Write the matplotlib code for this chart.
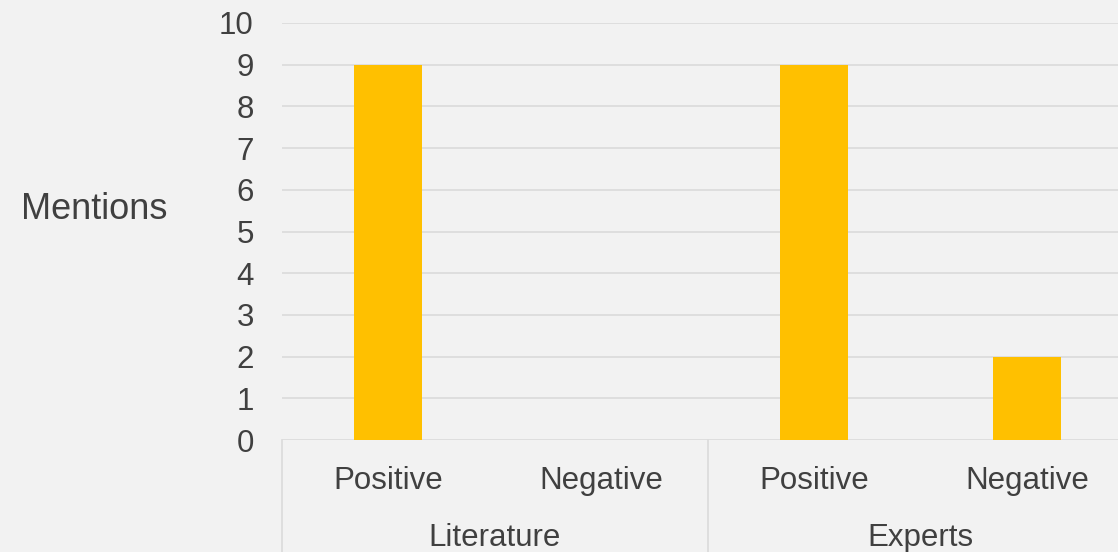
"""Bar chart of positive and negative mentions by source."""

import matplotlib

matplotlib.use("Agg")

import matplotlib.pyplot as plt
from matplotlib.lines import Line2D

groups = ["Literature", "Experts"]
sentiments = ["Positive", "Negative"]
mentions = [9, 0, 9, 2]
y_ticks = list(range(0, 11))

BAR_COLOR = "#FFC000"
GRID_COLOR = "#DCDCDC"
TEXT_COLOR = "#404040"
BACKGROUND = "#F2F2F2"

plt.rcParams["font.family"] = ["Liberation Sans", "DejaVu Sans"]

W, H = 1118, 552
fig = plt.figure(figsize=(W / 100, H / 100), dpi=100, facecolor=BACKGROUND)

# plot area in pixels: left 281.5, right 1133.5 (runs past the edge), y from 23 to 440
left, right, top, bottom = 281.5, 1133.5, 23, 440
ax = fig.add_axes(
    [left / W, (H - bottom) / H, (right - left) / W, (bottom - top) / H]
)
ax.set_facecolor(BACKGROUND)

positions = list(range(len(mentions)))
ax.bar(positions, mentions, width=0.315, color=BAR_COLOR, zorder=3)

ax.set_xlim(-0.5, len(mentions) - 0.5)
ax.set_ylim(0, 10)
ax.set_yticks(y_ticks)
ax.set_yticklabels([str(v) for v in y_ticks])
ax.tick_params(axis="y", length=0, pad=20, labelsize=22.5, labelcolor=TEXT_COLOR)
ax.set_xticks([])
for spine in ax.spines.values():
    spine.set_visible(False)

ax.yaxis.grid(True, color=GRID_COLOR, linewidth=1.3, zorder=0)
ax.set_axisbelow(True)

# two-level category axis
trans = ax.get_xaxis_transform()
axis_h = bottom - top
sub_base = -(489 - bottom) / axis_h
group_base = -(546 - bottom) / axis_h
line_end = -(H - bottom) / axis_h

for i, pos in enumerate(positions):
    ax.text(
        pos,
        sub_base,
        sentiments[i % len(sentiments)],
        transform=trans,
        ha="center",
        va="baseline",
        fontsize=22.5,
        color=TEXT_COLOR,
    )

n_sub = len(sentiments)
for g, name in enumerate(groups):
    centre = g * n_sub + (n_sub - 1) / 2
    ax.text(
        centre,
        group_base,
        name,
        transform=trans,
        ha="center",
        va="baseline",
        fontsize=22.5,
        color=TEXT_COLOR,
    )

for g in range(len(groups) + 1):
    x = g * n_sub - 0.5
    ax.add_line(
        Line2D(
            [x, x],
            [0, line_end],
            transform=trans,
            color=GRID_COLOR,
            linewidth=1.3,
            clip_on=False,
        )
    )

fig.text(21 / W, (H - 219) / H, "Mentions", ha="left", va="baseline",
         fontsize=26, color=TEXT_COLOR)

fig.savefig("out.png", dpi=100, facecolor=BACKGROUND)
